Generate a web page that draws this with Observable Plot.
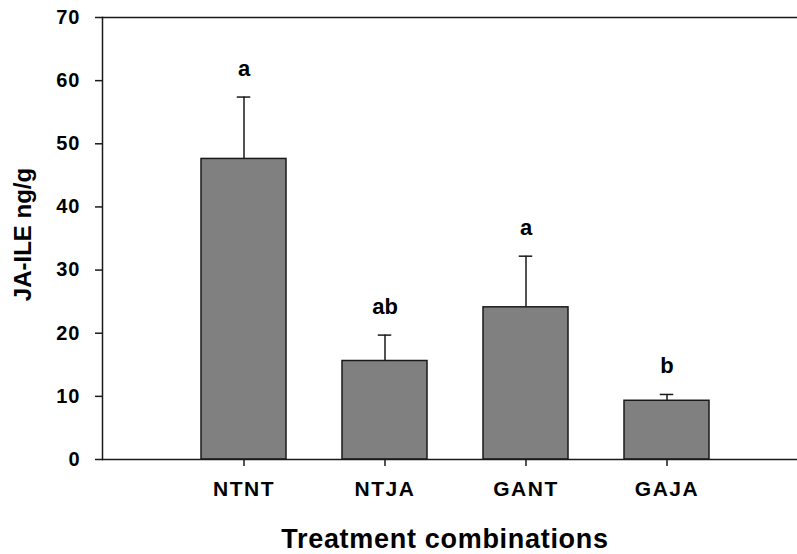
<!DOCTYPE html>
<html><head><meta charset="utf-8">
<script src="https://cdn.jsdelivr.net/npm/d3@7"></script>
<script src="https://cdn.jsdelivr.net/npm/@observablehq/plot@0.6"></script>
<style>
body{margin:0;background:#fff}
g[aria-label="x-axis tick label"] text{letter-spacing:1.5px}
g[aria-label="y-axis tick label"] text{letter-spacing:1px}
</style></head><body><div id="chart"></div>
<script>
const categories = ["NTNT", "NTJA", "GANT", "GAJA"];
const means = [47.6, 15.6, 24.1, 9.3];
const errors = [9.8, 4.1, 8.1, 1.0];
const letters = ["a", "ab", "a", "b"];
const yTicks = [0, 10, 20, 30, 40, 50, 60, 70];
const xTitle = "Treatment combinations";
const yTitle = "JA-ILE ng/g";

const data = categories.map((c, i) => ({cat: c, mean: means[i], top: means[i] + errors[i], letter: letters[i]}));
const ink = "#1a1a1a";

const chart = Plot.plot({
  width: 797, height: 554,
  marginLeft: 102, marginRight: 0, marginTop: 17, marginBottom: 95,
  style: {fontFamily: "'Liberation Sans', Arial, sans-serif", fontWeight: "bold", background: "#fff", overflow: "visible", color: "#000"},
  x: {domain: categories, paddingInner: 0.394, paddingOuter: 0.658, align: 0.53, label: null},
  y: {domain: [0, 70], label: null},
  marks: [
    Plot.barY(data, {x: "cat", y: "mean", fill: "#808080", stroke: ink, strokeWidth: 1.5}),
    Plot.ruleX(data, {x: "cat", y1: "mean", y2: "top", stroke: ink, strokeWidth: 1.5}),
    Plot.tickY(data, {x: "cat", y: "top", stroke: ink, strokeWidth: 1.5, insetLeft: 35.75, insetRight: 35.75}),
    Plot.text(data, {x: "cat", y: "top", text: "letter", dy: -21, lineAnchor: "bottom", fontSize: 22, fill: "#000"}),
    Plot.ruleY([0, 70], {stroke: ink, strokeWidth: 1.5}),
    Plot.frame({anchor: "left", stroke: ink, strokeWidth: 1.5}),
    Plot.axisY({ticks: yTicks, tickSize: 7, tickPadding: 15, fontSize: 20, label: null, stroke: ink, strokeWidth: 1.5, fill: "#000"}),
    Plot.axisX({tickSize: 7, tickPadding: 15, fontSize: 21, label: null, stroke: ink, strokeWidth: 1.5, fill: "#000"}),
    Plot.text([xTitle], {text: d => d, frameAnchor: "bottom", textAnchor: "middle", dy: 88, dx: -5, lineAnchor: "bottom", fontSize: 27, fill: "#000"}),
    Plot.text([yTitle], {text: d => d, frameAnchor: "left", textAnchor: "middle", rotate: -90, dx: -79.5, dy: -4, lineAnchor: "middle", fontSize: 24, fill: "#000"})
  ]
});
chart.querySelectorAll("text").forEach(t => { if (t.textContent === xTitle) t.style.letterSpacing = "0.7px"; });
document.getElementById("chart").appendChild(chart);
</script>
</body></html>
